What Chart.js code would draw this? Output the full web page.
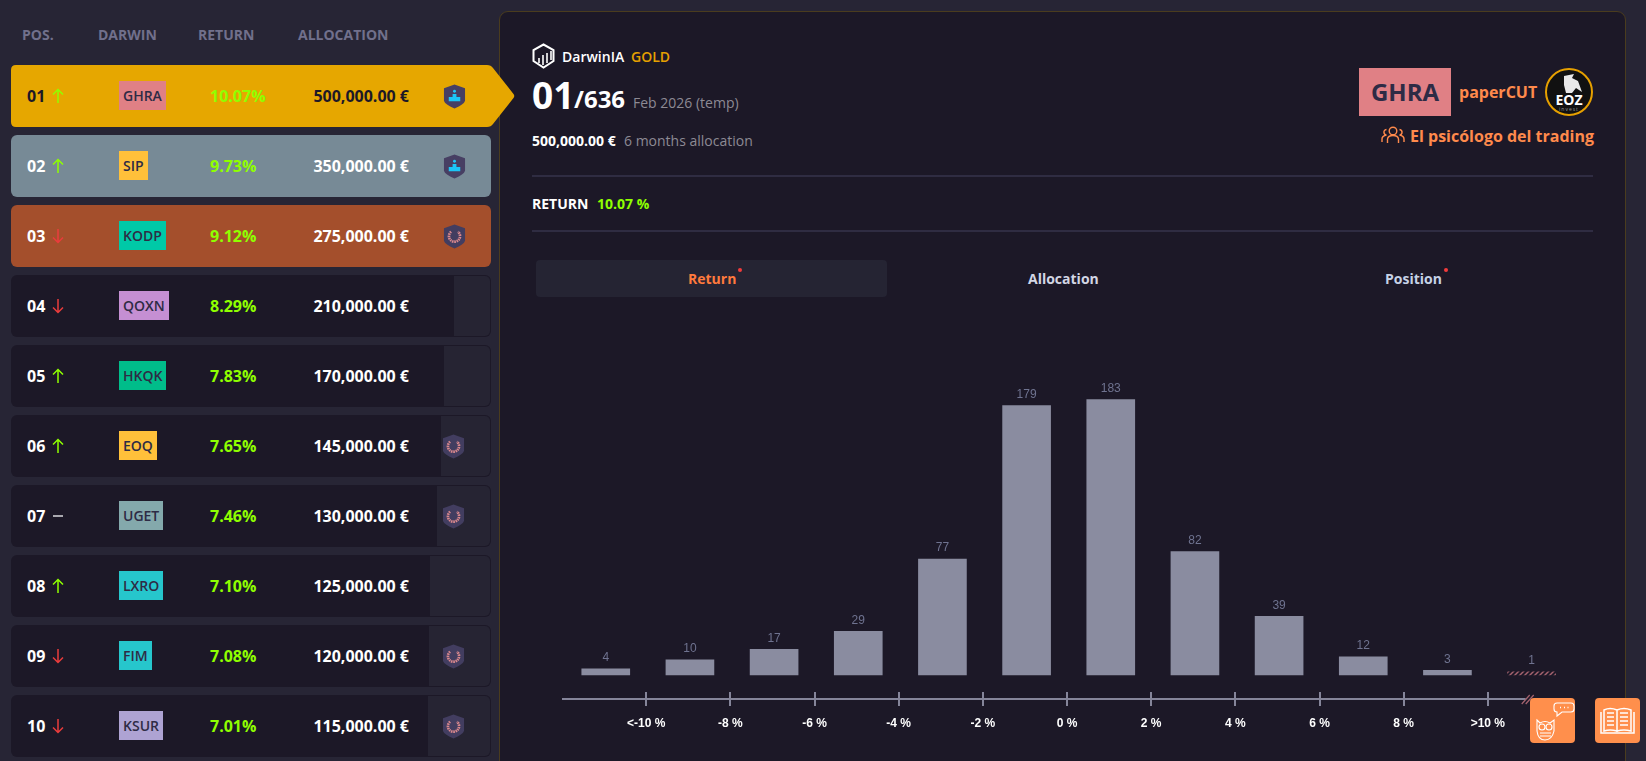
<!DOCTYPE html>
<html>
<head>
<meta charset="utf-8">
<title>DarwinIA</title>
<script src="https://cdn.jsdelivr.net/npm/chart.js@4/dist/chart.umd.min.js"></script>
<style>
  html, body { margin: 0; height: 100%; overflow: hidden; background: #272535; font-family: "Open Sans", sans-serif; color: #fff; }
  .abs { position: absolute; white-space: nowrap; }
  .txt { position: absolute; white-space: nowrap; line-height: 20px; height: 20px; font-weight: 700; }
  .row { position: absolute; left: 11px; width: 480px; height: 62px; border-radius: 6px; overflow: hidden; box-sizing: border-box; }
  #panel { position: absolute; left: 499px; top: 11px; width: 1127px; height: 770px; background: #1c1827; border: 1px solid #4a3c1e; border-radius: 9px; box-sizing: border-box; }
  .rule { position: absolute; left: 532px; width: 1061px; height: 2px; background: #2f2c42; }
  .dot { position: absolute; width: 4px; height: 4px; border-radius: 50%; background: #f23b3b; }
  #chartBox { position: absolute; left: 520px; top: 340px; width: 1090px; height: 421px; }
  .btn { position: absolute; top: 698px; width: 45px; height: 45px; background: #ff8f4c; border-radius: 4px; }
</style>
</head>
<body>
<div id="rows"></div>

<div id="panel"></div>
<svg class="abs" style="left:11px;top:65px" width="504" height="62">
  <path d="M5 0H476Q480 0 482 3L502.500 29Q504 31 502.500 33L482 59Q480 62 476 62H5Q0 62 0 57V5Q0 0 5 0Z" fill="#e6a700"/>
</svg>
<div id="firstRow"></div>

<svg class="abs" style="left:532px;top:43px" width="24" height="26" viewBox="0 0 24 26" fill="none" stroke="#fff" stroke-width="2">
  <path d="M11.500 1.500L21.500 7V18L11.500 24.500L1.500 18V7Z"/>
  <path d="M7 20V15M11 22V12M15 20V10M19 17V8" stroke-width="1.600"/>
</svg>
<div class="txt" style="left:562px;top:47px;font-size:14px;font-weight:600">DarwinIA</div>
<div class="txt" style="left:631px;top:47px;font-size:14px;font-weight:600;color:#e6a000">GOLD</div>
<div class="txt" style="left:532px;top:85px;font-size:37px;">01</div>
<div class="txt" style="left:574px;top:89px;font-size:24px;">/636</div>
<div class="txt" style="left:633px;top:93px;font-size:14px;font-weight:400;color:#8d8a94">Feb 2026 (temp)</div>
<div class="txt" style="left:532px;top:131px;font-size:14px">500,000.00 €</div>
<div class="txt" style="left:624px;top:131px;font-size:14px;font-weight:400;color:#8d8a94">6 months allocation</div>
<div class="rule" style="top:175px"></div>
<div class="txt" style="left:532px;top:194px;font-size:14px">RETURN</div>
<div class="txt" style="left:597px;top:194px;font-size:14px;color:#8fff00">10.07 %</div>
<div class="rule" style="top:230px"></div>

<div class="abs" style="left:536px;top:260px;width:351px;height:37px;background:#252433;border-radius:4px"></div>
<div class="txt" style="left:688px;top:269px;font-size:14px;color:#ff7a3d">Return</div>
<div class="dot" style="left:738px;top:268px"></div>
<div class="txt" style="left:1028px;top:269px;font-size:14px;color:#d3d6e4">Allocation</div>
<div class="txt" style="left:1385px;top:269px;font-size:14px;color:#c6d2e6">Position</div>
<div class="dot" style="left:1444px;top:268px"></div>

<div class="abs" style="left:1359px;top:68px;width:92px;height:48px;line-height:48px;text-align:center;background:#e08085;color:#2e2b45;font-size:24px;font-weight:700">GHRA</div>
<div class="txt" style="left:1459px;top:82px;font-size:16px;color:#ff8a4c">paperCUT</div>
<svg class="abs" style="left:1545px;top:68px" width="48" height="48" viewBox="0 0 48 48">
  <circle cx="24" cy="24" r="23" fill="#111" stroke="#e6a000" stroke-width="2"/>
  <path d="M19 8L29 6L27 10L33 13L37 24L31 20L27 25L21 25L19 17Z" fill="#e8e8e8"/>
  <text x="24" y="37" text-anchor="middle" font-family="Open Sans" font-weight="700" font-size="14" fill="#fff">EOZ</text>
  <text x="24" y="43" text-anchor="middle" font-family="Open Sans" font-size="5" letter-spacing="1" fill="#999">invest</text>
</svg>
<svg class="abs" style="left:1381px;top:126px" width="24" height="20" viewBox="0 0 24 20" fill="none" stroke="#ff8a4c" stroke-width="1.400">
  <circle cx="12" cy="5" r="3.800"/><path d="M6.500 17V13Q7 9.500 12 9.500Q17 9.500 17.500 13V17"/>
  <path d="M5.500 3.500Q2.500 4 3 7Q3.500 9 5.500 9Q1 10 1 13V16M18.500 3.500Q21.500 4 21 7Q20.500 9 18.500 9Q23 10 23 13V16"/>
</svg>
<div class="txt" style="left:1410px;top:126px;font-size:16px;color:#ff8a4c">El psicólogo del trading</div>

<div id="chartBox"><canvas id="returnChart" width="1090" height="421"></canvas></div>

<div class="btn" style="left:1530px">
  <svg width="45" height="45" viewBox="0 0 45 45" fill="none" stroke="#fff" stroke-width="1.100">
    <path d="M7 22L10 25Q15 22 20 25L24 22V33Q22 42 15 42Q8 42 7 33Z"/>
    <circle cx="12" cy="29" r="3"/><circle cx="19" cy="29" r="3"/>
    <path d="M10 35H21M10 38H21"/>
    <path d="M27 5H41Q44 5 44 8V11Q44 14 41 14H32L27 18V14Q24 14 24 11V8Q24 5 27 5Z"/>
    <path d="M30 9.500H31M34 9.500H35M37.500 9.500H38.500" stroke-width="1.600"/>
  </svg>
</div>
<div class="btn" style="left:1595px">
  <svg width="45" height="45" viewBox="0 0 45 45" fill="none" stroke="#fff" stroke-width="1.500">
    <path d="M9 12Q15 9 22 12V33Q15 31 9 33ZM36 12Q29 9 22 12V33Q29 31 36 33Z"/>
    <path d="M6 14V35H39V14"/>
    <path d="M12 15H19M12 19H19M12 23H19M12 27H19M25 15H33M25 19H33M25 23H33M25 27H33"/>
  </svg>
</div>

<div class="txt" style="left:22px;top:25px;font-size:14px;color:#71708c">POS.</div>
<div class="txt" style="left:98px;top:25px;font-size:14px;color:#71708c">DARWIN</div>
<div class="txt" style="left:198px;top:25px;font-size:14px;color:#71708c">RETURN</div>
<div class="txt" style="left:298px;top:25px;font-size:14px;color:#71708c">ALLOCATION</div>

<script>
// ranking table
const positions = ['01', '02', '03', '04', '05', '06', '07', '08', '09', '10']
const trends = ['up', 'up', 'down', 'down', 'up', 'up', 'flat', 'up', 'down', 'down']
const tickers = ['GHRA', 'SIP', 'KODP', 'QOXN', 'HKQK', 'EOQ', 'UGET', 'LXRO', 'FIM', 'KSUR']
const returns = ['10.07%', '9.73%', '9.12%', '8.29%', '7.83%', '7.65%', '7.46%', '7.10%', '7.08%', '7.01%']
const allocations = ['500,000.00 €', '350,000.00 €', '275,000.00 €', '210,000.00 €', '170,000.00 €',
  '145,000.00 €', '130,000.00 €', '125,000.00 €', '120,000.00 €', '115,000.00 €']
const badges = ['podium', 'podium', 'laurel', '', '', 'laurel', 'laurel', '', 'laurel', 'laurel']

// histogram of returns, the bars sit a hair right of the middle between ticks
const binCenters = [-10.96, -8.96, -6.96, -4.96, -2.96, -0.96, 1.04, 3.04, 5.04, 7.04, 9.04, 11.04]
const counts = [4, 10, 17, 29, 77, 179, 183, 82, 39, 12, 3, 1]
const tickValues = [-10, -8, -6, -4, -2, 0, 2, 4, 6, 8, 10]
const tickLabels = ['<-10 %', '-8 %', '-6 %', '-4 %', '-2 %', '0 %', '2 %', '4 %', '6 %', '8 %', '>10 %']

// table styling, kept apart from the values
const tickerColors = ['#e08085', '#ffc03a', '#00c9a7', '#c58fd3', '#00bd8a', '#ffc03a', '#84a9ac', '#26c6cc', '#26c6cc', '#aea3d3']
const rowColors = ['transparent', '#778a96', '#a44f2c']
const stripStarts = [0, 0, 0, 454, 444, 441, 437, 430, 429, 428]
const trendColors = { up: '#8fff00', down: '#ea3c3c', flat: '#d8d8de' }

function arrowSvg (trend) {
  const paths = {
    up: 'M6 15V1.500M1 6.500L6 1.500L11 6.500',
    down: 'M6 1V14.500M1 9.500L6 14.500L11 9.500',
    flat: 'M1 8H11'
  }
  return `<svg class="abs" style="left:41px;top:23px" width="12" height="16" fill="none" stroke="${trendColors[trend]}" stroke-width="1.500"><path d="${paths[trend]}"/></svg>`
}

function badgeSvg (kind, cx) {
  const inner = kind === 'podium'
    ? '<path d="M6 13h4v4.500H6zM10 10h4v7.500h-4zM14 13h4v4.500h-4z" fill="#1cc6f7"/><circle cx="12" cy="7" r="1.500" fill="#1cc6f7"/>'
    : '<path d="M8.500 7.500A5.800 5.800 0 1 0 15.500 7.500" fill="none" stroke="#d9888d" stroke-width="2.800" stroke-dasharray="1.600 .7"/>'
  return `<svg class="abs" style="left:${cx - 11 - 11}px;top:19px" width="23" height="25" viewBox="0 0 24 25">
    <path d="M12 0L23 4V17Q22 21 12 25Q2 21 1 17V4Z" fill="${kind === 'podium' ? '#473f63' : '#423d60'}"/>${inner}</svg>`
}

function rowHtml (i) {
  const dark = i === 0
  const strip = stripStarts[i] ? `<div class="abs" style="left:${stripStarts[i] - 11}px;top:1px;right:1px;bottom:1px;border-radius:0 5px 5px 0;background:#262433"></div>` : ''
  const badge = badges[i] ? badgeSvg(badges[i], i < 3 ? 454 : 453) : ''
  return `${strip}
    <div class="txt" style="left:16px;top:21px;font-size:16px;color:${dark ? '#1c1827' : '#fff'}">${positions[i]}</div>
    ${arrowSvg(trends[i])}
    <div class="abs" style="left:108px;top:16px;height:29px;line-height:30px;padding:0 4px;background:${tickerColors[i]};color:#2e2b45;font-size:14px;font-weight:600">${tickers[i]}</div>
    <div class="txt" style="left:199px;top:21px;font-size:16px;color:#8fff00">${returns[i]}</div>
    <div class="txt" style="right:${491 - 409}px;top:21px;font-size:16px;color:${dark ? '#1c1827' : '#fff'}">${allocations[i]}</div>
    ${badge}`
}

const rowsEl = document.getElementById('rows')
positions.forEach((p, i) => {
  if (i === 0) return
  const el = document.createElement('div')
  el.className = 'row'
  el.style.top = (65 + i * 70) + 'px'
  el.style.background = i < 3 ? rowColors[i] : '#1c1827'
  el.innerHTML = rowHtml(i)
  rowsEl.appendChild(el)
})
const firstEl = document.createElement('div')
firstEl.className = 'row'
firstEl.style.top = '65px'
firstEl.innerHTML = rowHtml(0)
document.getElementById('firstRow').appendChild(firstEl)

// hatch fill for the last bin, a 45 degree line that wraps without a seam
function hatchPattern () {
  const c = document.createElement('canvas')
  c.width = 5
  c.height = 5
  const g = c.getContext('2d')
  g.strokeStyle = '#a5636f'
  g.lineWidth = 1.5
  g.beginPath()
  g.moveTo(-1, 6)
  g.lineTo(6, -1)
  g.moveTo(-1, 1)
  g.lineTo(1, -1)
  g.moveTo(4, 6)
  g.lineTo(6, 4)
  g.stroke()
  return g.createPattern(c, 'repeat')
}

// axis line with ticks on both sides and the break mark at the end
const axisPlugin = {
  id: 'axisLine',
  afterDraw (chart) {
    const { ctx, scales: { x }, chartArea } = chart
    const y = chartArea.bottom
    const end = x.getPixelForValue(10.9)
    ctx.save()
    ctx.strokeStyle = '#85859a'
    ctx.lineWidth = 2
    ctx.beginPath()
    ctx.moveTo(chartArea.left, y)
    ctx.lineTo(end, y)
    tickValues.forEach(v => {
      const px = Math.round(x.getPixelForValue(v))
      ctx.moveTo(px, y - 7)
      ctx.lineTo(px, y + 7)
    })
    ctx.stroke()
    ctx.strokeStyle = '#a5636f'
    ctx.lineWidth = 1.2
    ctx.beginPath()
    ctx.moveTo(end - 4, y + 5)
    ctx.lineTo(end + 4, y - 4)
    ctx.moveTo(end, y + 5)
    ctx.lineTo(end + 8, y - 4)
    ctx.stroke()
    ctx.restore()
  }
}

// count above each bar
const countPlugin = {
  id: 'countLabels',
  afterDatasetsDraw (chart) {
    const { ctx } = chart
    ctx.save()
    ctx.font = '12px "Liberation Sans"'
    ctx.fillStyle = '#6f7390'
    ctx.textAlign = 'center'
    ctx.textBaseline = 'middle'
    chart.getDatasetMeta(0).data.forEach((bar, i) => {
      ctx.fillText(counts[i], bar.x, bar.y - 11)
    })
    ctx.restore()
  }
}

new Chart(document.getElementById('returnChart'), {
  type: 'bar',
  data: {
    datasets: [{
      data: binCenters.map((x, i) => ({ x, y: counts[i] })),
      backgroundColor: counts.map((c, i) => i === counts.length - 1 ? hatchPattern() : '#8a8ca0'),
      barThickness: 48,
      minBarLength: 3,
      borderWidth: 0
    }]
  },
  options: {
    responsive: false,
    animation: false,
    devicePixelRatio: 1,
    layout: { padding: { left: 42, right: 38, top: 34, bottom: 0 } },
    plugins: { legend: { display: false }, tooltip: { enabled: false } },
    scales: {
      x: {
        type: 'linear',
        offset: false,
        min: -12,
        max: 12,
        grid: { display: false },
        border: { display: false },
        afterBuildTicks: scale => { scale.ticks = tickValues.map(value => ({ value })) },
        afterFit: scale => { scale.height = 62 },
        ticks: {
          autoSkip: false,
          maxRotation: 0,
          padding: 9,
          color: '#fff',
          font: { family: 'Liberation Sans', size: 12, weight: 'bold' },
          callback: (value, index) => tickLabels[index]
        }
      },
      y: { display: false, min: -16, max: 200 }
    }
  },
  plugins: [axisPlugin, countPlugin]
})
</script>
</body>
</html>
